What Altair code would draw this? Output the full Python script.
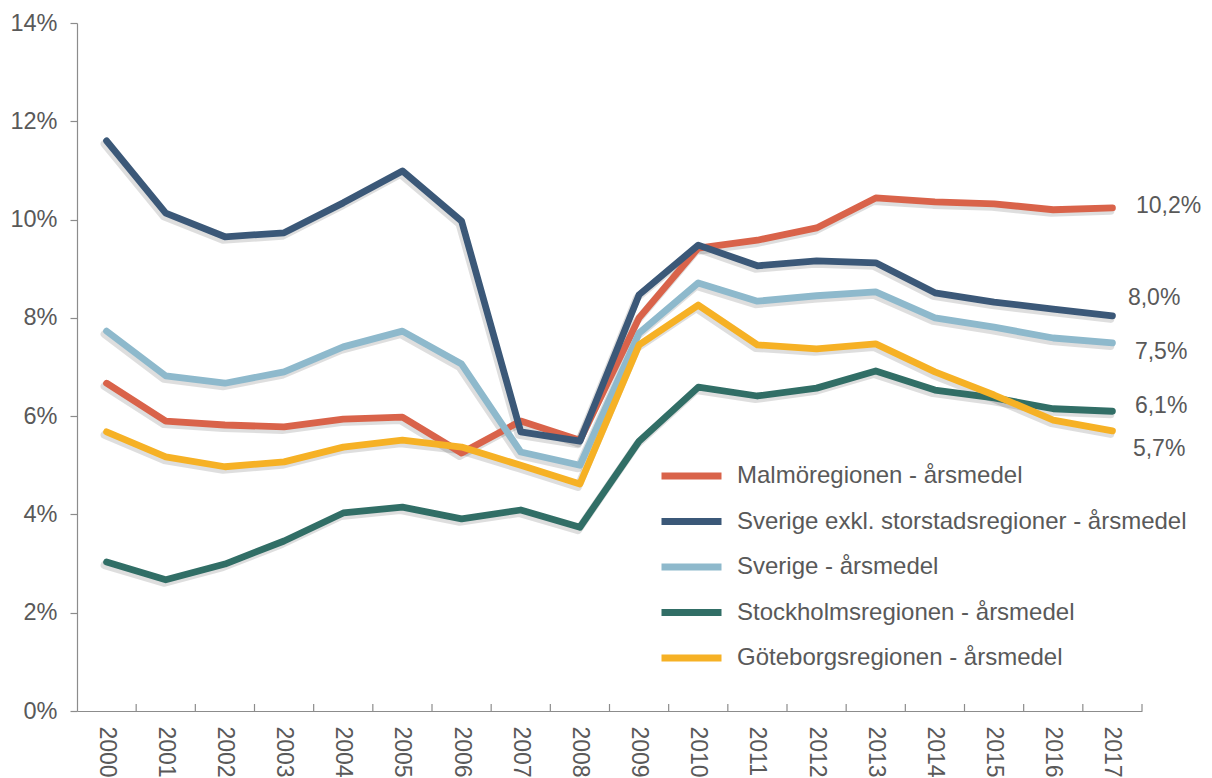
import altair as alt
import pandas as pd

years = [str(y) for y in range(2000, 2018)]

series_names = [
    "Malmöregionen - årsmedel",
    "Sverige exkl. storstadsregioner - årsmedel",
    "Sverige - årsmedel",
    "Stockholmsregionen - årsmedel",
    "Göteborgsregionen - årsmedel",
]

malmo = [6.67, 5.90, 5.82, 5.78, 5.94, 5.98, 5.25, 5.90, 5.51, 8.00, 9.42, 9.58, 9.83, 10.44, 10.36, 10.32, 10.20, 10.24]
sverige_exkl = [11.60, 10.13, 9.65, 9.73, 10.34, 10.99, 9.97, 5.68, 5.49, 8.47, 9.48, 9.06, 9.16, 9.12, 8.51, 8.32, 8.18, 8.04]
sverige = [7.73, 6.82, 6.67, 6.90, 7.41, 7.73, 7.06, 5.27, 5.00, 7.69, 8.71, 8.34, 8.45, 8.53, 8.00, 7.81, 7.59, 7.49]
stockholm = [3.03, 2.67, 2.99, 3.46, 4.03, 4.15, 3.91, 4.09, 3.74, 5.49, 6.59, 6.41, 6.57, 6.92, 6.53, 6.37, 6.15, 6.10]
goteborg = [5.68, 5.17, 4.97, 5.07, 5.37, 5.51, 5.37, 5.00, 4.62, 7.45, 8.26, 7.45, 7.37, 7.47, 6.90, 6.43, 5.92, 5.70]

y_ticks = [0, 2, 4, 6, 8, 10, 12, 14]

colors = ["#D9634A", "#3B5878", "#8EB9CC", "#316E66", "#F6B125"]

all_values = [malmo, sverige_exkl, sverige, stockholm, goteborg]
rows = []
for si, (name, vals) in enumerate(zip(series_names, all_values)):
    for y, v in zip(years, vals):
        rows.append({"year": y, "series": name, "value": v, "order": si})
df = pd.DataFrame(rows)

FONT = "Liberation Sans"
TXT = "#595959"
AX = "#8C8C8C"
W, H = 1065, 688

xscale = alt.Scale(type="band", domain=years, paddingInner=0, paddingOuter=0)
yscale = alt.Scale(domain=[0, 14], nice=False, zero=True)

base = alt.Chart(df)

shadow = base.mark_line(
    strokeWidth=8, color="#000000", opacity=0.13, xOffset=-2, yOffset=3,
    strokeCap="round", strokeJoin="round"
).encode(
    x=alt.X("year:O", scale=xscale, bandPosition=0.5,
            axis=alt.Axis(title=None, labelAngle=90, ticks=False, labelPadding=15,
                          labelFontSize=23, labelFont=FONT, labelColor=TXT,
                          domainColor=AX, domainWidth=1.2, grid=False)),
    y=alt.Y("value:Q", scale=yscale,
            axis=alt.Axis(title=None, values=y_ticks, labelExpr="datum.value + '%'",
                          tickSize=7, tickColor=AX, tickWidth=1.2, labelPadding=13,
                          labelFontSize=23.5, labelFont=FONT, labelColor=TXT,
                          domainColor=AX, domainWidth=1.2, grid=False)),
    detail="series:N",
    order="order:Q",
)

lines = base.mark_line(strokeWidth=6.8, strokeCap="round", strokeJoin="round").encode(
    x=alt.X("year:O", scale=xscale, bandPosition=0.5),
    y=alt.Y("value:Q", scale=yscale),
    color=alt.Color("series:N", scale=alt.Scale(domain=series_names, range=colors),
                    legend=alt.Legend(title=None, orient="none", legendX=581, legendY=441,
                                      symbolType="stroke", symbolSize=3600, symbolStrokeWidth=7,
                                      clipHeight=24, rowPadding=21.5, labelOffset=12,
                                      labelFontSize=24, labelFont=FONT, labelColor=TXT,
                                      padding=0, labelLimit=600)),
    order="order:Q",
)

tick_df = pd.DataFrame({"year": years[1:]})
xticks = alt.Chart(tick_df).mark_rule(color=AX, strokeWidth=1.2).encode(
    x=alt.X("year:O", scale=xscale, bandPosition=0),
    y=alt.value(H - 7), y2=alt.value(H),
)
xtick_end = alt.Chart(pd.DataFrame({"year": years[-1:]})).mark_rule(color=AX, strokeWidth=1.2).encode(
    x=alt.X("year:O", scale=xscale, bandPosition=1),
    y=alt.value(H - 7), y2=alt.value(H),
)

label_offsets = {
    series_names[0]: (23.5, -2),
    series_names[1]: (15.5, -18),
    series_names[2]: (22.5, 9),
    series_names[3]: (22.5, -5),
    series_names[4]: (20.5, 18),
}

end_layers = []
for name in series_names:
    dx, dy = label_offsets[name]
    end_layers.append(
        base.transform_filter(
            (alt.datum.series == name) & (alt.datum.year == years[-1])
        ).transform_calculate(
            txt="replace(format(datum.value, '.1f'), '.', ',') + '%'"
        ).mark_text(align="left", baseline="middle", dx=dx, dy=dy,
                    fontSize=23, font=FONT, color=TXT).encode(
            x=alt.X("year:O", scale=xscale, bandPosition=0.5),
            y=alt.Y("value:Q", scale=yscale),
            text="txt:N",
        )
    )

chart = alt.layer(shadow, lines, xticks, xtick_end, *end_layers).properties(
    width=W, height=H,
    autosize=alt.AutoSizeParams(type="none"),
    padding={"left": 69, "top": 15, "right": 60, "bottom": 66},
).configure_view(stroke=None).configure_axis(labelOverlap=False)

chart.save("out.html", embed_options={"renderer": "svg", "actions": False})
